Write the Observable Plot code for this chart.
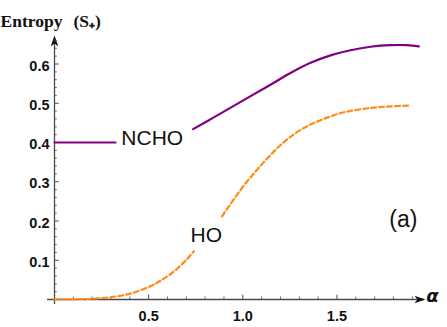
<!DOCTYPE html>
<html>
<head>
<meta charset="utf-8">
<script src="https://cdn.jsdelivr.net/npm/d3@7"></script>
<script src="https://cdn.jsdelivr.net/npm/@observablehq/plot@0.6"></script>
<style>
  html, body { margin: 0; padding: 0; background: #fff; }
  #chart svg { display: block; }
</style>
</head>
<body>
<div id="chart"></div>
<script>
// NCHO entropy (purple, solid); null marks the gap left for the label
const nchoAlpha = [0, 0.1, 0.2, 0.324, 0.5, 0.736, 0.846, 1.023, 1.147, 1.253, 1.36, 1.466, 1.572, 1.678, 1.784, 1.873, 1.935];
const nchoS     = [0.4, 0.4, 0.4, 0.4, null, 0.434, 0.464, 0.513, 0.547, 0.577, 0.603, 0.622, 0.635, 0.644, 0.648, 0.648, 0.645];

// HO entropy (orange, dashed); null marks the gap left for the label
const hoAlpha = [0, 0.1, 0.2, 0.297, 0.404, 0.51, 0.563, 0.63, 0.696, 0.74, 0.81, 0.89, 1.005, 1.112, 1.218, 1.324, 1.43, 1.537, 1.678, 1.784, 1.882];
const hoS     = [0, 0.0005, 0.002, 0.006, 0.015, 0.034, 0.048, 0.07, 0.099, 0.123, null, 0.212, 0.290, 0.350, 0.401, 0.437, 0.460, 0.477, 0.488, 0.492, 0.494];

// axis ticks
const xMajor = [0.5, 1.0, 1.5];
const xMajorLabels = ["0.5", "1.0", "1.5"];
const yMajor = [0.1, 0.2, 0.3, 0.4, 0.5, 0.6];
const yMajorLabels = ["0.1", "0.2", "0.3", "0.4", "0.5", "0.6"];
const xMinor = d3.range(1, 20).map(d => d / 10).filter(d => !xMajor.some(m => Math.abs(m - d) < 1e-9));
const yMinor = d3.range(1, 34).map(d => d / 50).filter(d => !yMajor.some(m => Math.abs(m - d) < 1e-9));

// in-plot labels
const labels = [
  {text: "NCHO", a: 0.519, s: 0.412, size: 21},
  {text: "HO", a: 0.806, s: 0.163, size: 21},
  {text: "(a)", a: 1.853, s: 0.204, size: 23}
];

const ncho = nchoAlpha.map((a, i) => ({a, s: nchoS[i]}));
const ho = hoAlpha.map((a, i) => ({a, s: hoS[i]}));
const xTicks = xMajor.map((v, i) => ({v, label: xMajorLabels[i]}));
const yTicks = yMajor.map((v, i) => ({v, label: yMajorLabels[i]}));

const axisColor = "#4a4a4a";
const arrowRight = {draw(ctx) { ctx.moveTo(0, 0); ctx.lineTo(-11, -3.8); ctx.lineTo(-8, 0); ctx.lineTo(-11, 3.8); ctx.closePath(); }};
const arrowUp = {draw(ctx) { ctx.moveTo(0, 0); ctx.lineTo(-3.8, 11); ctx.lineTo(0, 8); ctx.lineTo(3.8, 11); ctx.closePath(); }};

const chart = Plot.plot({
  width: 447,
  height: 327,
  marginLeft: 54,
  marginRight: 16.4,
  marginTop: 24.25,
  marginBottom: 28,
  x: {domain: [0, 2], axis: null},
  y: {domain: [0, 0.7], axis: null},
  style: {fontFamily: "Liberation Sans, Arial, sans-serif", background: "#fff"},
  marks: [
    // axes lines
    Plot.ruleY([0], {x1: -0.037, x2: 1.965, stroke: axisColor, strokeWidth: 1.3}),
    Plot.ruleX([0], {y1: -0.013, y2: 0.665, stroke: axisColor, strokeWidth: 1.3}),
    Plot.dot([{a: 1.97, s: 0}], {x: "a", y: "s", symbol: arrowRight, fill: "#111", stroke: null}),
    Plot.dot([{a: 0, s: 0.6726}], {x: "a", y: "s", symbol: arrowUp, fill: "#111", stroke: null}),
    // ticks
    Plot.ruleX(xMajor, {x: d => d, y1: 0, y2: 0.011, stroke: axisColor, strokeWidth: 1}),
    Plot.ruleX(xMinor, {x: d => d, y1: 0, y2: 0.0065, stroke: axisColor, strokeWidth: 0.8}),
    Plot.ruleY(yMajor, {y: d => d, x1: 0, x2: 0.025, stroke: axisColor, strokeWidth: 1}),
    Plot.ruleY(yMinor, {y: d => d, x1: 0, x2: 0.015, stroke: axisColor, strokeWidth: 0.8}),
    // tick labels
    Plot.text(xTicks, {x: "v", y: () => 0, text: "label", dy: 17, fontWeight: "bold", fontSize: 14.5, fill: "#111"}),
    Plot.text(yTicks, {x: () => 0, y: "v", text: "label", dx: -5, dy: 2, textAnchor: "end", fontWeight: "bold", fontSize: 14.5, fill: "#111"}),
    // curves
    Plot.line(ho, {x: "a", y: "s", stroke: "#ff8c1a", strokeWidth: 2.2, strokeDasharray: "5,3", curve: "catmull-rom"}),
    Plot.line(ncho, {x: "a", y: "s", stroke: "#800080", strokeWidth: 2.2, curve: "catmull-rom"}),
    // labels
    Plot.text(labels, {x: "a", y: "s", text: "text", fontSize: d => d.size, fill: "#111"}),
    // axis titles
    Plot.text(["Entropy"], {frameAnchor: "top-left", dx: -54, dy: -10, textAnchor: "start", fontFamily: "Liberation Serif, Times New Roman, serif", fontWeight: "bold", fontSize: 17.5, fill: "#111"}),
    Plot.text(["(S₊)"], {frameAnchor: "top-left", dx: 19, dy: -10, textAnchor: "start", fontFamily: "Liberation Serif, Times New Roman, serif", fontWeight: "bold", fontSize: 17.5, fill: "#111"}),
    Plot.text(["α"], {frameAnchor: "bottom-right", dx: 7.4, dy: 2, fontFamily: "DejaVu Sans, sans-serif", fontStyle: "italic", fontWeight: "bold", fontSize: 18, fill: "#111"})
  ]
});
document.getElementById("chart").appendChild(chart);
</script>
</body>
</html>
